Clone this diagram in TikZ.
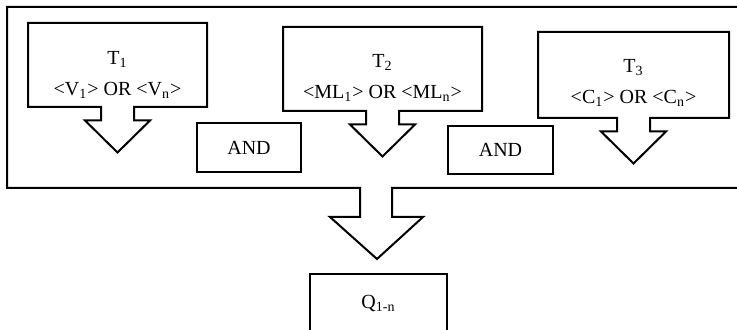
\documentclass[tikz,border=0pt]{standalone}
\usepackage{fontspec}
\setmainfont{Liberation Serif}
\usetikzlibrary{positioning,calc}

\tikzset{
  box/.style 2 args={minimum width=#1, minimum height=#2, inner sep=0pt, outer sep=0pt},
  txt/.style={align=center, font=\normalsize, inner sep=0pt},
}

\begin{document}
\begin{tikzpicture}[x=0.5pt,y=-0.5pt,line width=1pt]
  \useasboundingbox (0,0) rectangle (737,330);
  % outer frame with the big arrow down to Q
  \draw (360,188) -- (7,188) -- (7,7) -- (745,7) -- (745,188) -- (392,188)
    -- (392,217) -- (423,217) -- (377,259) -- (330,217) -- (360,217) -- cycle;

  \node[box={89.5pt}{42pt}] (t1) at (117.5,65) {};
  \node[box={99.5pt}{42pt}] (t2) at (382.5,69) {};
  \node[box={95.5pt}{43pt}] (t3) at (633.5,75) {};

  % boxes with their arrows
  \foreach \b in {t1,t2,t3}
    \draw ($(\b.south)+(-16.5,0)$) -- (\b.south west) -- (\b.north west)
      -- (\b.north east) -- (\b.south east) -- ($(\b.south)+(16.5,0)$)
      -- ++(0,13.5) -- ++(16,0) -- ($(\b.south)+(0,45.5)$)
      -- ($(\b.south)+(-32.5,13.5)$) -- ++(16,0) -- cycle;

  \node[txt] (t1txt) at (117.5,75) {T\textsubscript{1}\\[3.5pt]<V\textsubscript{1}> OR <V\textsubscript{n}>};
  \node[txt] (t2txt) at (382.5,78) {T\textsubscript{2}\\[3.5pt]<ML\textsubscript{1}> OR <ML\textsubscript{n}>};
  \node[txt] (t3txt) at (633.5,83) {T\textsubscript{3}\\[3.5pt]<C\textsubscript{1}> OR <C\textsubscript{n}>};

  \node[box={52pt}{24.5pt},draw] (and1) at (249,147.5) {AND};
  \node[box={52.5pt}{24pt},draw] (and2) at (500.5,150) {AND};

  \node[box={68.5pt}{30pt},draw] (q) at (378.5,304) {Q\textsubscript{1-n}};
\end{tikzpicture}
\end{document}
